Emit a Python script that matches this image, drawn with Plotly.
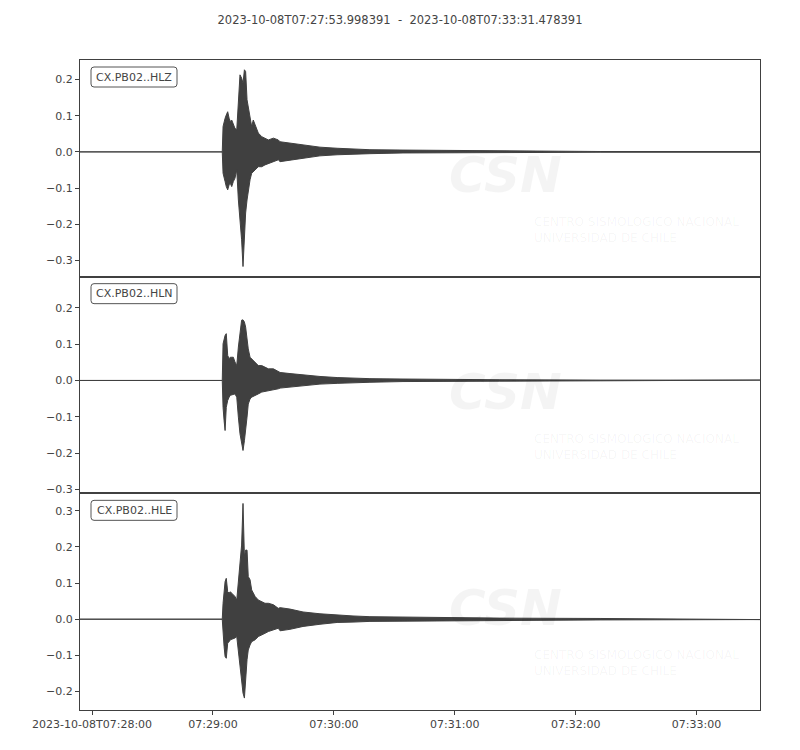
import pandas as pd
import plotly.graph_objects as go
from plotly.subplots import make_subplots

# ---- data ----
start_time = "2023-10-08T07:27:53.998391"
end_time = "2023-10-08T07:33:31.478391"
channels = ["CX.PB02..HLZ", "CX.PB02..HLN", "CX.PB02..HLE"]

# envelope sample times, seconds after start
t_sec = [0, 70.6, 71.0, 71.5, 72.0, 72.6, 73.3, 74.0, 74.6, 75.3, 76.1, 76.9,
         77.8, 78.6, 79.4, 80.2, 80.9, 81.6, 82.2, 82.9, 83.5, 84.4, 85.2,
         86.0, 86.9, 88.5, 90.2, 91.8, 93.5, 96.0, 98.4, 99.3, 104.2, 110.7,
         119.1, 127.6, 135.5, 143.9, 160.3, 177.2, 208.4, 258.1, 337.48]

hlz_upper = [0, 0, 0.070, 0.084, 0.093, 0.102, 0.111, 0.093, 0.084, 0.088, 0.075, 0.065,
             0.061, 0.144, 0.213, 0.204, 0.190, 0.227, 0.222, 0.144, 0.125, 0.107, 0.070,
             0.088, 0.075, 0.052, 0.042, 0.038, 0.033, 0.038, 0.033, 0.028, 0.024, 0.019,
             0.013, 0.010, 0.008, 0.006, 0.005, 0.004, 0.002, 0.001, 0.001]
hlz_lower = [0, 0, -0.059, -0.073, -0.082, -0.096, -0.105, -0.091, -0.087, -0.096, -0.082, -0.073,
             -0.050, -0.133, -0.188, -0.243, -0.317, -0.225, -0.169, -0.133, -0.105, -0.077, -0.059,
             -0.054, -0.050, -0.041, -0.041, -0.036, -0.031, -0.027, -0.022, -0.027, -0.022, -0.017,
             -0.011, -0.008, -0.006, -0.005, -0.003, -0.002, -0.002, -0.001, -0.001]

hln_upper = [0, 0, 0.101, 0.115, 0.124, 0.129, 0.069, 0.060, 0.064, 0.064, 0.064, 0.051,
             0.041, 0.092, 0.138, 0.166, 0.167, 0.161, 0.147, 0.110, 0.087, 0.064, 0.060,
             0.055, 0.051, 0.041, 0.041, 0.037, 0.032, 0.032, 0.023, 0.022, 0.019, 0.015,
             0.011, 0.008, 0.006, 0.005, 0.004, 0.003, 0.002, 0.001, 0.001]
hln_lower = [0, 0, -0.074, -0.110, -0.138, -0.074, -0.055, -0.046, -0.041, -0.041, -0.039, -0.037,
             -0.046, -0.101, -0.147, -0.166, -0.193, -0.166, -0.147, -0.101, -0.065, -0.051, -0.046,
             -0.043, -0.041, -0.037, -0.032, -0.032, -0.028, -0.026, -0.023, -0.021, -0.018, -0.014,
             -0.010, -0.008, -0.006, -0.005, -0.003, -0.002, -0.002, -0.001, -0.001]

hle_upper = [0, 0, 0.044, 0.081, 0.104, 0.113, 0.076, 0.072, 0.076, 0.072, 0.067, 0.063,
             0.053, 0.099, 0.146, 0.205, 0.320, 0.173, 0.191, 0.191, 0.118, 0.109, 0.081,
             0.072, 0.063, 0.053, 0.049, 0.044, 0.044, 0.040, 0.030, 0.032, 0.028, 0.020,
             0.015, 0.011, 0.009, 0.007, 0.006, 0.004, 0.003, 0.002, 0.001]
hle_lower = [0, 0, -0.039, -0.075, -0.103, -0.108, -0.066, -0.062, -0.057, -0.057, -0.054, -0.052,
             -0.048, -0.075, -0.122, -0.168, -0.204, -0.218, -0.177, -0.112, -0.085, -0.071, -0.062,
             -0.059, -0.057, -0.048, -0.043, -0.039, -0.034, -0.029, -0.025, -0.032, -0.028, -0.020,
             -0.014, -0.009, -0.008, -0.006, -0.004, -0.004, -0.003, -0.002, -0.001]

y_ranges = [[-0.345, 0.254], [-0.311, 0.286], [-0.251, 0.348]]
y_ticks = [[0.2, 0.1, 0.0, -0.1, -0.2, -0.3],
           [0.2, 0.1, 0.0, -0.1, -0.2, -0.3],
           [0.3, 0.2, 0.1, 0.0, -0.1, -0.2]]
x_tick_times = ["2023-10-08 07:28:00", "2023-10-08 07:29:00", "2023-10-08 07:30:00",
                "2023-10-08 07:31:00", "2023-10-08 07:32:00", "2023-10-08 07:33:00"]
x_tick_text = ["2023-10-08T07:28:00", "07:29:00", "07:30:00", "07:31:00", "07:32:00", "07:33:00"]

uppers = [hlz_upper, hln_upper, hle_upper]
lowers = [hlz_lower, hln_lower, hle_lower]

# ---- figure ----
INK = "#404040"
TXT = "#444444"
FONT = "DejaVu Sans"
WM = "rgba(0,0,0,0.045)"

# page has an 8px body margin; figure sized so the plot area lands at 80..760 x 60..710
W, H = 792, 742
ML, MR, MT, MB = 72, 40, 52, 40
PW, PH = W - ML - MR, H - MT - MB  # 680 x 650

t0 = pd.Timestamp(start_time)
times = [t0 + pd.Timedelta(seconds=s) for s in t_sec]

fig = make_subplots(rows=3, cols=1, shared_xaxes=True, vertical_spacing=0)

for i in range(3):
    xs = times + times[::-1]
    ys = uppers[i] + lowers[i][::-1]
    fig.add_trace(go.Scatter(x=xs, y=ys, mode="lines", fill="toself",
                             fillcolor=INK, line=dict(color=INK, width=1),
                             hoverinfo="skip", showlegend=False), row=i + 1, col=1)


def px_to_paper(px, py):
    """plot-area pixel (0..680 from left, 0..650 from top) -> paper coords"""
    return px / PW, 1 - py / PH


def rounded_box(x0, y0, x1, y1, r):
    rx, ry = r / PW, r / PH
    X0, Y0 = px_to_paper(x0, y0)
    X1, Y1 = px_to_paper(x1, y1)
    return (f"M {X0 + rx},{Y0} L {X1 - rx},{Y0} Q {X1},{Y0} {X1},{Y0 - ry} "
            f"L {X1},{Y1 + ry} Q {X1},{Y1} {X1 - rx},{Y1} L {X0 + rx},{Y1} "
            f"Q {X0},{Y1} {X0},{Y1 + ry} L {X0},{Y0 - ry} Q {X0},{Y0} {X0 + rx},{Y0} Z")


panel_h = PH / 3
for i in range(3):
    r = i + 1
    fig.update_yaxes(range=y_ranges[i], tickvals=y_ticks[i], tickformat=".1f",
                     showgrid=False, zeroline=False, showline=True, mirror=True,
                     linecolor=INK, linewidth=1, ticks="outside", ticklen=4,
                     tickcolor=INK, tickfont=dict(family=FONT, size=11, color=TXT),
                     row=r, col=1)
    fig.update_xaxes(range=[t0, pd.Timestamp(end_time)], showgrid=False, zeroline=False,
                     showline=True, mirror=True, linecolor=INK, linewidth=1,
                     row=r, col=1)
    top = i * panel_h
    # channel label with rounded box
    fig.add_shape(type="path", xref="paper", yref="paper",
                  path=rounded_box(11, top + 7, 97, top + 27, 3),
                  line=dict(color="#555555", width=1), fillcolor="white", layer="above")
    cx, cy = px_to_paper(54, top + 17)
    fig.add_annotation(text=channels[i], xref="paper", yref="paper", x=cx, y=cy,
                       xanchor="center", yanchor="middle", showarrow=False,
                       font=dict(family=FONT, size=11, color=TXT))
    # faint watermark
    wx, wy = px_to_paper(425, top + 115)
    fig.add_annotation(text="<b><i>CSN</i></b>", xref="paper", yref="paper", x=wx, y=wy,
                       xanchor="center", yanchor="middle", showarrow=False,
                       font=dict(family=FONT, size=50, color=WM))
    tx, ty = px_to_paper(452, top + 153)
    fig.add_annotation(text="CENTRO SISMOLOGICO NACIONAL<br>UNIVERSIDAD DE CHILE",
                       xref="paper", yref="paper", x=tx, y=ty, xanchor="left",
                       yanchor="top", align="left", showarrow=False,
                       font=dict(family=FONT, size=12, color=WM))

for r in (1, 2):
    fig.update_xaxes(ticks="", showticklabels=False, row=r, col=1)
fig.update_xaxes(tickvals=[pd.Timestamp(s) for s in x_tick_times], ticktext=x_tick_text,
                 ticks="outside", ticklen=4, tickcolor=INK,
                 tickfont=dict(family=FONT, size=11, color=TXT), row=3, col=1)

fig.update_layout(
    width=W, height=H,
    margin=dict(l=ML, r=MR, t=MT, b=MB),
    paper_bgcolor="white", plot_bgcolor="white",
    title=dict(text=f"{start_time}\u00a0\u00a0-\u00a0\u00a0{end_time}",
               x=(400 - 8) / W, xref="container", xanchor="center",
               y=1 - 12 / H, yref="container", yanchor="middle",
               font=dict(family=FONT, size=11.5, color=TXT)),
    showlegend=False,
)

fig.write_html("out.html")
